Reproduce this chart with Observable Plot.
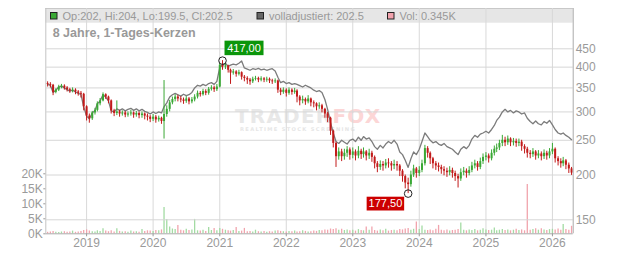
<!DOCTYPE html>
<html><head><meta charset="utf-8">
<script src="https://cdn.jsdelivr.net/npm/d3@7"></script>
<script src="https://cdn.jsdelivr.net/npm/@observablehq/plot@0.6"></script>
<style>
body{margin:0;background:#fff;}
#wrap{position:relative;width:632px;height:253px;overflow:hidden;font-family:"Liberation Sans",Arial,sans-serif;}
#wrap > svg{position:absolute;left:0;top:0;}
</style></head>
<body><div id="wrap"></div>
<script>
// ---- data (semi-monthly samples, 1st and 16th of each month, Jun 2018 .. Apr 2026) ----
const startYear = 2018, startMonth = 5; // June
const firstOpen = 360;
const closes = [
 358,356,340,345,352,354,350,346,343,345,341,338,336,310,
 292,287,298,303,316,322,335,330,322,302,297,300,296,298,294,296,298,294,297,293,296,292,290,286,
 290,285,288,282,295,305,318,325,330,326,324,321,326,320,324,330,338,335,342,338,347,350,346,352,
 405,400,403,392,385,388,382,386,375,372,368,364,370,372,368,371,368,370,366,364,366,345,340,345,
 338,345,340,343,330,322,325,320,326,318,316,310,312,305,296,288,265,245,225,232,225,230,235,227,
 232,226,233,228,232,226,230,224,215,210,214,212,216,215,212,214,212,205,198,190,188,200,208,202,
 206,215,237,230,222,215,212,210,207,205,203,206,202,198,195,203,205,202,206,212,215,210,218,224,
 226,222,230,236,238,245,250,246,252,246,248,245,247,240,236,230,228,232,226,229,225,230,226,232,
 236,222,218,215,219,213,208,202.5
];
const highs = [
 364,362,358,348,356,358,357,353,349,350,348,344,342,338,
 312,296,301,307,320,327,339,337,332,324,305,322,303,302,301,300,303,300,301,300,300,298,296,293,
 295,293,292,290,367,312,323,330,335,334,331,328,331,329,329,335,343,342,347,346,351,355,354,358,
 410,417,409,405,395,394,391,392,388,379,376,372,375,377,375,376,374,375,373,370,371,368,349,350,
 348,350,348,349,346,333,332,328,333,328,322,318,318,315,307,299,290,267,247,238,236,236,240,238,
 238,235,240,236,238,234,236,233,226,218,219,218,221,222,218,220,218,214,207,200,196,205,213,210,
 211,220,242,240,232,224,218,216,213,211,209,211,209,205,201,208,210,208,211,217,220,218,223,229,
 231,229,235,241,244,250,258,255,257,254,253,252,252,250,243,239,234,237,234,234,232,235,233,237,
 245,238,225,222,224,221,216,210
];
const lows = [
 352,350,333,337,342,348,345,341,338,339,335,332,328,302,
 283,279,284,294,300,312,320,325,316,296,291,293,290,292,289,290,292,288,290,287,288,285,283,280,
 282,279,281,277,252,290,300,314,320,320,318,315,317,314,316,320,326,330,332,333,334,343,340,342,
 350,392,394,385,358,380,375,378,368,364,358,356,360,366,362,364,362,363,360,358,360,338,333,336,
 330,334,334,336,318,312,316,313,316,310,308,302,305,298,288,280,258,238,210,220,218,220,224,220,
 222,219,222,221,223,219,221,217,208,203,206,205,208,209,205,207,205,198,191,183,177.5,185,197,196,
 198,203,212,223,214,208,206,204,201,199,197,199,196,192,184,192,199,196,199,203,208,205,207,214,
 219,216,219,226,231,234,240,240,242,240,241,239,240,233,229,223,222,224,220,222,219,221,220,222,
 228,216,212,209,211,207,202,199.5
];
const adjusted = [
 358,356,340,345,352,354,350,346,343,345,341,338,336,310,
 292,287,298,303,316,322,335,330,322,302,300,306,303,306,302,305,307,303,306,302,305,301,299,296,
 300,297,300,298,310,318,330,335,338,335,332,336,333,335,340,350,356,354,358,355,360,362,358,365,
 400,405,410,402,405,408,406,410,416,398,395,392,396,394,397,393,395,392,394,396,390,375,362,365,
 360,362,358,360,358,355,352,356,353,350,345,342,344,340,325,305,280,262,248,245,250,247,244,250,
 252,248,255,250,256,252,254,248,240,236,242,238,244,248,245,250,244,232,228,220,210,222,232,228,
 236,248,262,256,250,246,248,244,242,245,240,238,236,232,228,236,240,237,242,252,258,255,260,262,
 265,262,268,275,284,290,300,305,300,303,298,302,300,296,298,288,282,278,283,278,276,282,279,284,
 276,268,262,260,262,258,255,251
];
const volumes = [ // thousands
 0.5,0.6,0.8,0.5,0.4,0.6,0.7,0.5,0.6,0.9,0.5,0.6,0.8,1.1,
 1.3,0.9,0.7,0.6,1.0,0.8,1.7,0.9,0.7,1.0,0.6,1.7,0.8,0.6,0.7,0.5,0.9,0.6,0.7,0.5,1.4,0.8,1.0,0.9,
 0.8,1.1,1.0,1.3,8.8,4.8,2.3,1.6,1.4,2.8,1.2,1.0,1.5,1.1,1.3,4.8,1.0,0.9,1.2,0.8,2.1,1.1,1.8,1.0,
 1.8,1.5,1.2,1.0,0.9,1.1,2.1,0.8,0.9,1.8,0.7,0.8,0.6,1.2,0.7,0.6,0.8,0.5,0.7,0.6,0.9,1.0,0.8,0.7,
 0.6,0.8,0.7,0.9,0.6,0.7,1.0,0.8,0.6,0.7,0.9,0.8,1.1,1.0,1.3,1.2,1.6,1.4,1.7,1.2,1.5,1.1,1.3,1.0,
 1.2,0.9,1.4,1.1,1.0,2.3,1.2,2.3,1.1,0.9,1.3,1.0,1.5,0.9,1.1,1.2,1.0,1.4,1.3,1.6,1.8,1.2,1.5,3.9,
 1.4,2.6,1.2,1.1,1.3,1.0,1.5,2.8,1.2,1.0,1.3,0.9,1.1,1.2,1.4,3.6,1.2,1.0,1.3,1.1,1.4,1.0,1.2,1.7,
 1.3,1.1,1.2,1.9,1.0,1.2,1.4,1.1,1.3,1.0,1.2,1.5,1.1,1.3,1.0,16.4,1.2,1.4,1.7,1.2,1.7,1.3,1.1,1.4,
 1.5,1.3,1.6,1.2,3.1,1.4,1.2,2.5
];
const yearTicks = [2019,2020,2021,2022,2023,2024,2025,2026];
const priceTicks = [150,200,250,300,350,400,450];
const volTicks = [0,5,10,15,20];
const last = {open: 202, high: 204, low: 199.5, close: 202.5, adj: 202.5, vol: "0.345K"};
const titleText = "8 Jahre, 1-Tages-Kerzen";

// ---- build table ----
const data = closes.map((c, i) => ({
  date: new Date(Date.UTC(startYear, startMonth + Math.floor(i / 2), i % 2 ? 16 : 1)),
  open: i ? closes[i - 1] : firstOpen,
  close: c, high: highs[i], low: lows[i], adj: adjusted[i], vol: volumes[i]
}));
data.forEach(d => d.up = d.close >= d.open);

const GREEN = "#3aa835", RED = "#c21a1a";
const W = 632, H = 253, ML = 45.3, MR = 59.3, MT = 8, MB = 19.7;
const xDomain = [new Date(Date.UTC(2018, 4, 22)), new Date(Date.UTC(2026, 3, 25))];
const yearDates = yearTicks.map(y => new Date(Date.UTC(y, 0, 1)));
const FONT = "Liberation Sans, Arial, sans-serif";

const volPlot = Plot.plot({
  width: W, height: H, marginLeft: ML, marginRight: MR, marginTop: MT, marginBottom: MB,
  style: {background: "none", color: "#9a9a9a", fontFamily: FONT, fontSize: "12px", overflow: "visible"},
  x: {type: "utc", domain: xDomain},
  y: {domain: [0, 20], range: [233.3, 173.3]},
  marks: [
    Plot.ruleX(yearDates, {stroke: "#d9d9d9"}),
    Plot.ruleX(data, {x: "date", y1: 0, y2: "vol", stroke: d => d.up ? "#a3dba3" : "#f1a4ad", strokeWidth: 1.3}),
    Plot.ruleX([xDomain[0]], {stroke: "#c4c4c4"}),
    Plot.ruleY([0], {stroke: "#aaaaaa"}),
    Plot.axisY({ticks: volTicks, anchor: "left", label: null, tickSize: 2, tickPadding: 1, tickFormat: d => d + "K", fontSize: 12}),
    Plot.axisX({ticks: yearDates, anchor: "bottom", label: null, tickSize: 3, tickPadding: 2, tickFormat: d => String(d.getUTCFullYear()), fontSize: 12})
  ]
});

const peak = data.reduce((a, b) => b.high > a.high ? b : a);
const trough = data.reduce((a, b) => b.low < a.low ? b : a);

const pricePlot = Plot.plot({
  width: W, height: H, marginLeft: ML, marginRight: MR, marginTop: MT, marginBottom: MB,
  style: {background: "none", color: "#9a9a9a", fontFamily: FONT, fontSize: "12px", overflow: "visible"},
  x: {type: "utc", domain: xDomain, axis: null},
  y: {type: "log", domain: [150, 450], range: [219.3, 48.3]},
  marks: [
    Plot.gridY(priceTicks, {stroke: "#d6d6d6", strokeOpacity: 1}),
    Plot.line(data, {x: "date", y: "adj", stroke: "#7c7c7c", strokeWidth: 1.3}),
    Plot.ruleX(data, {x: "date", y1: "low", y2: "high", stroke: d => d.up ? GREEN : RED, strokeWidth: 1}),
    Plot.ruleX(data, {x: "date", y1: "open", y2: "close", stroke: d => d.up ? GREEN : RED, strokeWidth: 2}),
    Plot.ruleX([xDomain[1]], {stroke: "#aaaaaa"}),
    Plot.axisY({ticks: priceTicks, anchor: "right", label: null, tickSize: 0, tickPadding: 2.5, tickFormat: d => String(d), fontSize: 12}),
    Plot.dot([peak], {x: "date", y: "high", r: 3.8, stroke: "#222", fill: "none", strokeWidth: 1}),
    Plot.dot([trough], {x: "date", y: "low", r: 3.8, stroke: "#222", fill: "none", strokeWidth: 1})
  ]
});

const wrap = document.getElementById("wrap");
wrap.append(volPlot, pricePlot);

// background decorations (legend box, watermark) behind the volume marks
const vs = d3.select(volPlot);
const back = vs.insert("g", ":first-child").attr("text-anchor", "start");
back.append("rect").attr("x", ML).attr("y", MT).attr("width", W - MR - ML).attr("height", 14.7).attr("fill", "#e6e6e6");
back.append("line").attr("x1", ML).attr("x2", W - MR).attr("y1", MT + 0.5).attr("y2", MT + 0.5).attr("stroke", "#c8c8c8");
const wm = back.append("text").attr("x", 235).attr("y", 123).attr("font-family", "DejaVu Sans, sans-serif")
  .attr("font-weight", "bold").attr("font-size", 20).attr("letter-spacing", 1.2);
wm.append("tspan").attr("fill", "#e8e8e8").text("TRADER");
wm.append("tspan").attr("fill", "#fcd6d6").text("FOX");
back.append("text").attr("x", 240).attr("y", 131).attr("font-family", "DejaVu Sans, sans-serif").attr("font-weight", "bold")
  .attr("font-size", 5.2).attr("letter-spacing", 1.3).attr("fill", "#e6e6e6").text("REALTIME STOCK SCREENING");

// legend + title
const leg = vs.append("g").attr("font-family", FONT).attr("font-size", 11).attr("fill", "#999").attr("text-anchor", "start");
const items = [
  {x: 50.5, color: GREEN, text: `Op:${last.open}, Hi:${last.high}, Lo:${last.low}, Cl:${last.close}`},
  {x: 257, color: "#666666", text: `volladjustiert: ${last.adj}`},
  {x: 387.5, color: "#f2a3ad", text: `Vol: ${last.vol}`}
];
items.forEach(it => {
  leg.append("rect").attr("x", it.x).attr("y", 12.5).attr("width", 6.5).attr("height", 6.5)
    .attr("fill", it.color).attr("stroke", "#222").attr("stroke-width", 1);
  leg.append("text").attr("x", it.x + 12).attr("y", 19.6).text(it.text);
});
vs.append("text").attr("x", 52.7).attr("y", 37.3).attr("text-anchor", "start").attr("font-family", FONT).attr("font-weight", "bold")
  .attr("font-size", 12.5).attr("fill", "#999").text(titleText);

// extreme-value labels positioned via the plot's own scales
const sx = pricePlot.scale("x"), sy = pricePlot.scale("y");
const fmt = v => v.toFixed(2).replace(".", ",");
const ann = d3.select(pricePlot).append("g").attr("font-family", FONT).attr("font-size", 11);
{
  const px = sx.apply(peak.date), py = sy.apply(peak.high);
  ann.append("rect").attr("x", px + 2.5).attr("y", py - 19.5).attr("width", 39).attr("height", 14.5).attr("fill", "#0b960b");
  ann.append("text").attr("x", px + 22).attr("y", py - 8.6).attr("text-anchor", "middle").attr("fill", "#fff").text(fmt(peak.high));
}
{
  const px = sx.apply(trough.date), py = sy.apply(trough.low);
  ann.append("rect").attr("x", px - 41).attr("y", py + 3.6).attr("width", 37.5).attr("height", 13.8).attr("fill", "#cc0000");
  ann.append("text").attr("x", px - 22.2).attr("y", py + 14.4).attr("text-anchor", "middle").attr("fill", "#fff").text(fmt(trough.low));
}
</script>
</body></html>
